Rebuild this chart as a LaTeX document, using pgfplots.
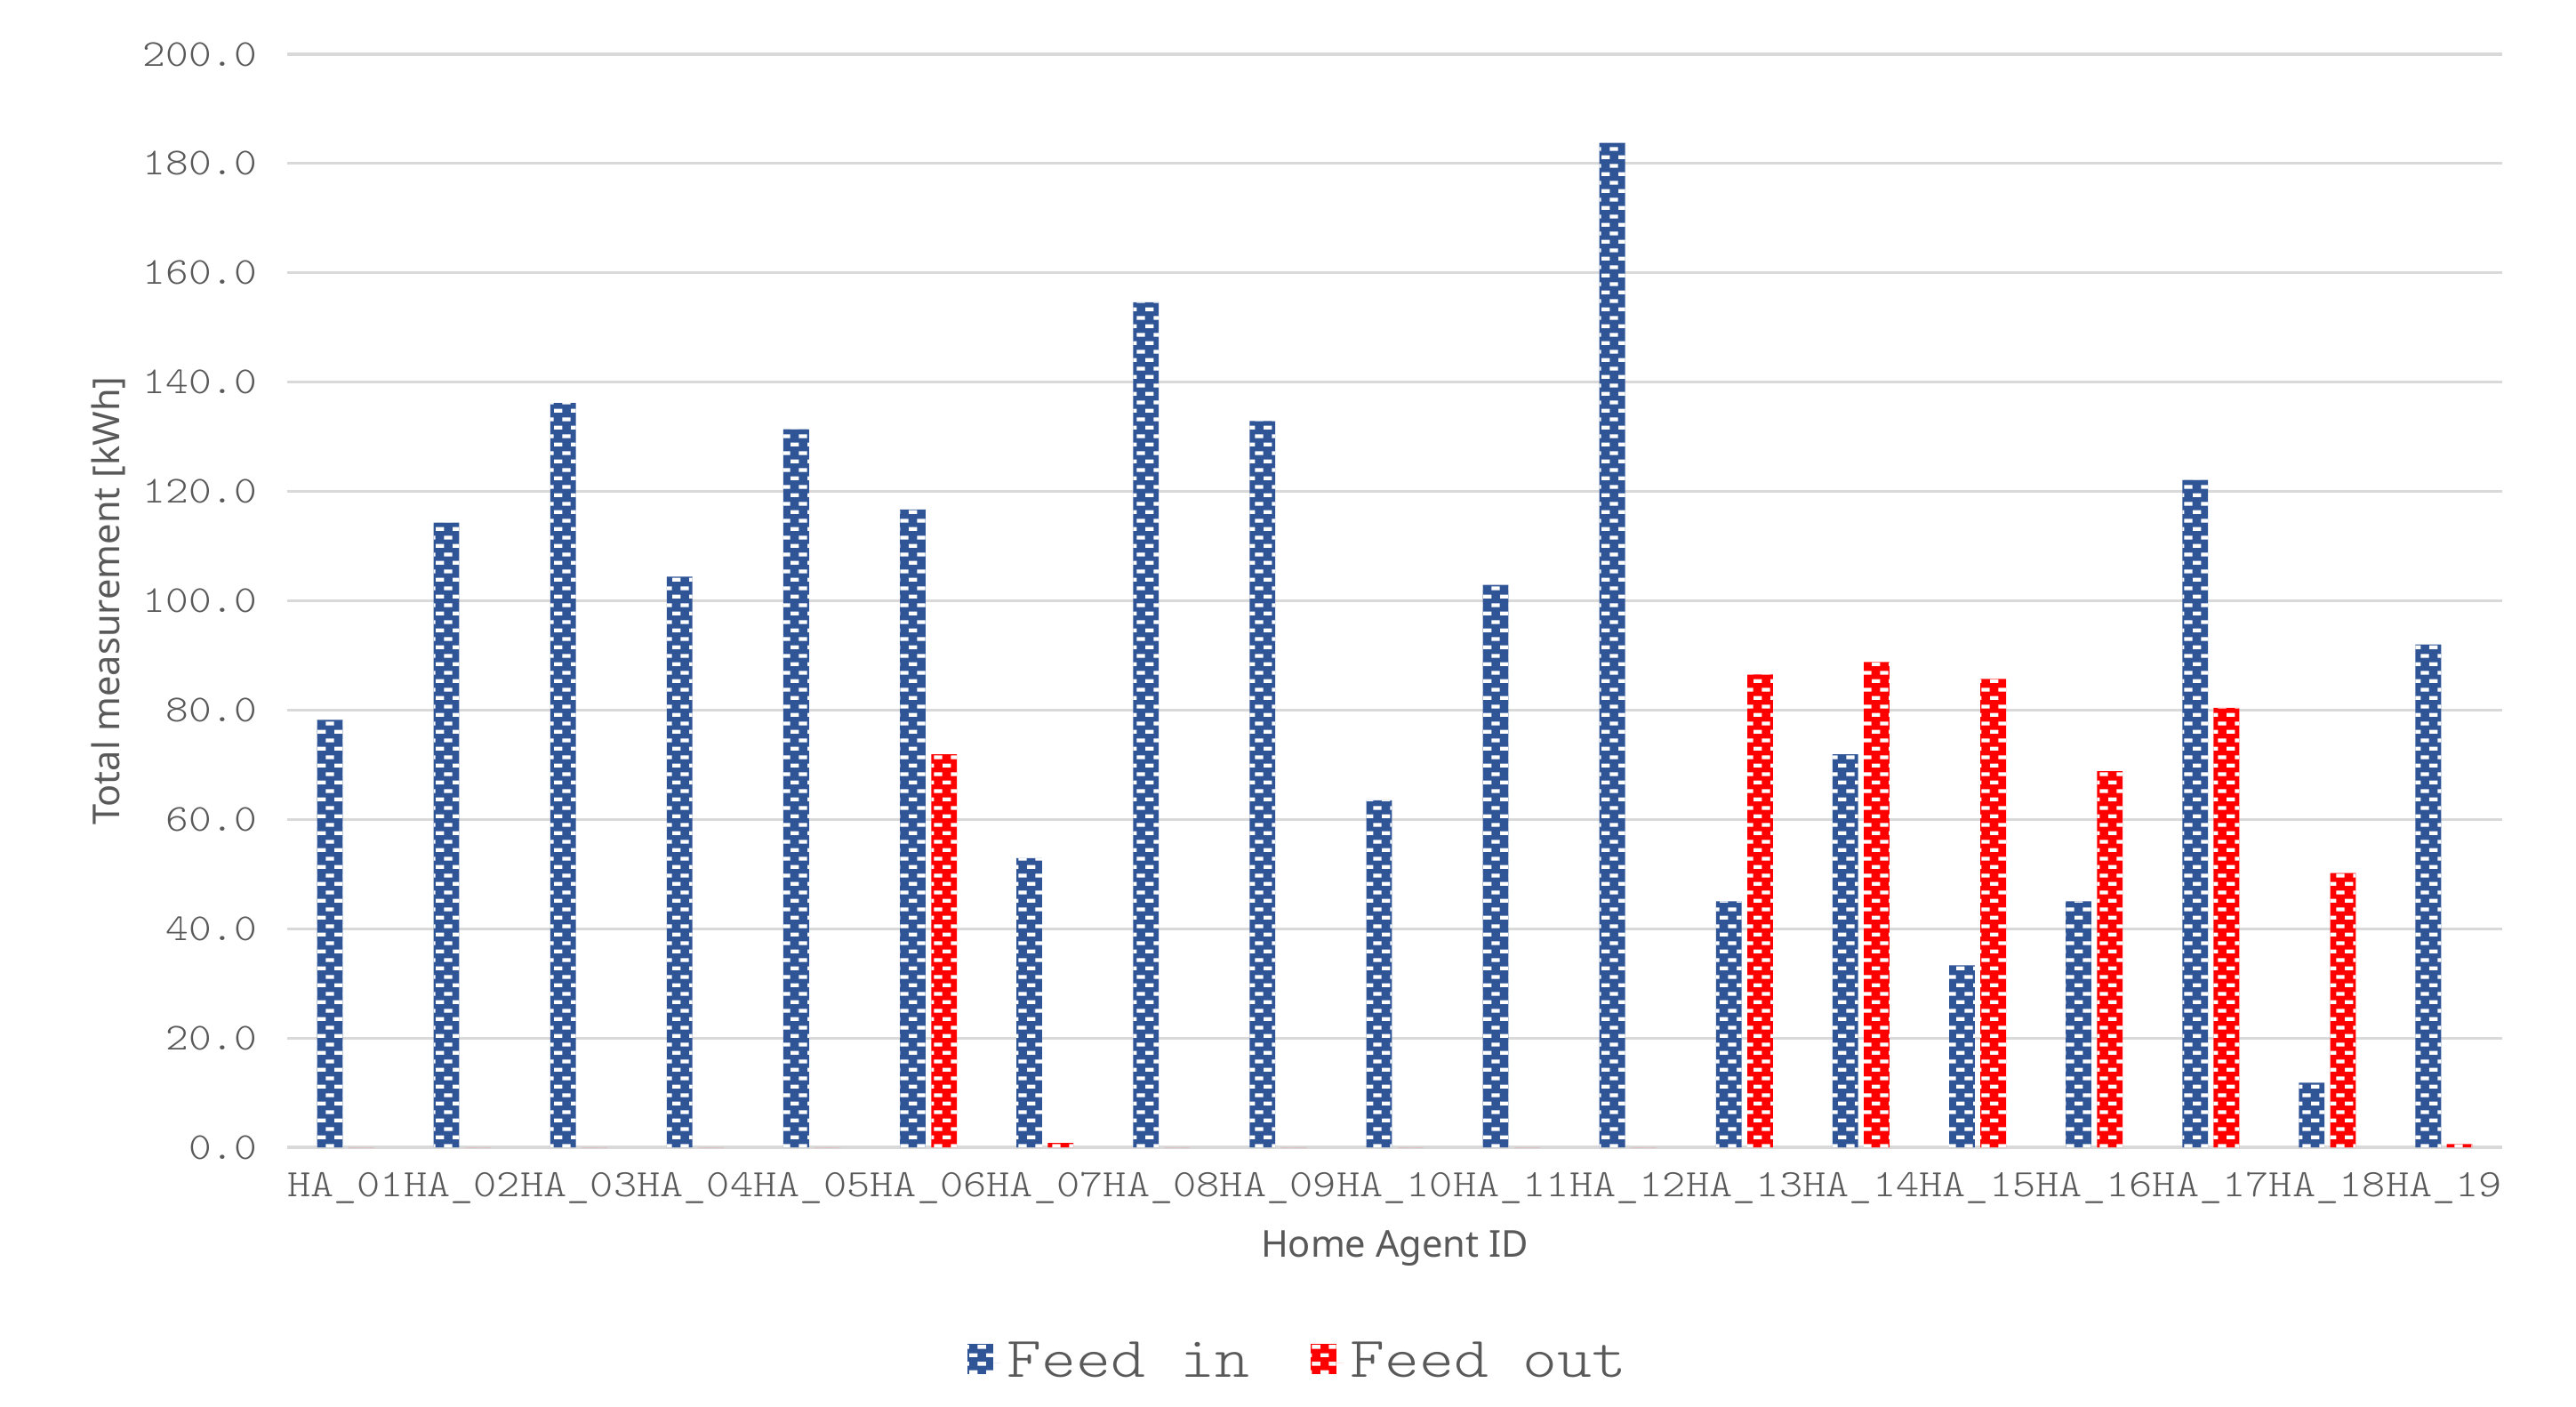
\documentclass[border=0pt]{standalone}
\usepackage{pgfplots}
\pgfplotsset{compat=1.18}
\usepackage{pgfplotstable}
\usepackage{fontspec}
\setmainfont{Noto Sans}
\setmonofont{lmmonolt10-regular}[Extension=.otf, FakeStretch=1.143]
\usetikzlibrary{patterns}
\definecolor{fblue}{HTML}{2F5597}
\definecolor{fred}{HTML}{FF0000}
\definecolor{gridc}{HTML}{D9D9D9}
\definecolor{txt}{HTML}{595959}

\pgfdeclarepatternformonly{xlbricks}{\pgfpointorigin}{\pgfpoint{4.7bp}{4.7bp}}{\pgfpoint{4.7bp}{4.7bp}}{%
  \pgfpathrectangle{\pgfpoint{0bp}{0bp}}{\pgfpoint{2.35bp}{1.1bp}}%
  \pgfpathrectangle{\pgfpoint{2.35bp}{2.35bp}}{\pgfpoint{2.35bp}{1.1bp}}%
  \pgfusepath{fill}%
}

\pgfplotsset{boxlegend/.style={legend image code/.code={\path[##1] (0bp,-3.3bp) rectangle (7.2bp,5.3bp); \path (0bp,0bp) -- (9.2bp,0bp);}}}

\pgfplotstableread{
x in out
0 78.2 0
1 114.3 0
2 136.2 0
3 104.4 0
4 131.4 0
5 116.7 71.9
6 52.9 0.8
7 154.6 0
8 132.9 0
9 63.5 0
10 102.9 0
11 183.8 0
12 45.0 86.5
13 71.9 88.8
14 33.3 85.7
15 45.0 68.8
16 122.1 80.4
17 11.8 50.2
18 92.0 0.6
}\datatable

\begin{document}
\begin{tikzpicture}
\path[use as bounding box] (-80.75bp,-73bp) rectangle (643.5bp,322.5bp);
\begin{axis}[
  at={(0,0)}, anchor=south west,
  scale only axis, width=622.75bp, height=307.25bp,
  xmin=-0.5, xmax=18.5, ymin=0, ymax=200,
  axis line style={draw=none},
  major tick length=0pt,
  ytick={0,20,...,200},
  ymajorgrids, grid style={color=gridc, line width=0.8bp},
  xtick={0,...,18},
  xticklabels={HA\_01,HA\_02,HA\_03,HA\_04,HA\_05,HA\_06,HA\_07,HA\_08,HA\_09,HA\_10,HA\_11,HA\_12,HA\_13,HA\_14,HA\_15,HA\_16,HA\_17,HA\_18,HA\_19},
  /pgf/number format/.cd, fixed, fixed zerofill, precision=1, assume math mode=true, /pgfplots/.cd,
  yticklabel style={font=\fontsize{10.7bp}{12bp}\selectfont\ttfamily, text=txt, anchor=east, inner sep=0pt, xshift=-8.25bp},
  xticklabel style={font=\fontsize{10.9bp}{12bp}\selectfont\ttfamily, text=txt, anchor=north, inner sep=0pt, yshift=-6.8bp},
  xlabel={Home Agent ID},
  ylabel={Total measurement [kWh]},
  every axis x label/.style={at={(axis description cs:0.5,-0.0928)}, anchor=center, font=\fontsize{10.4bp}{12bp}\selectfont, text=txt},
  every axis y label/.style={at={(axis description cs:-0.0807,0.5)}, rotate=90, anchor=center, font=\fontsize{10.4bp}{12bp}\selectfont, text=txt},
  legend style={at={(axis description cs:0.4576,-0.197)}, anchor=center, draw=none, fill=none,
    font=\fontsize{16.2bp}{19bp}\selectfont\ttfamily, text=txt, legend columns=2,
    /tikz/every even column/.append style={column sep=15.2bp}},
  clip=false,
]
\addplot[ybar, bar width=7.2bp, bar shift=-4.4bp, fill=fblue, draw=none,
  postaction={pattern=xlbricks, pattern color=white}, boxlegend]
  table[x=x, y=in]{\datatable};
\addlegendentry{Feed in}
\addplot[ybar, bar width=7.2bp, bar shift=4.4bp, fill=fred, draw=none,
  postaction={pattern=xlbricks, pattern color=white}, boxlegend]
  table[x=x, y=out]{\datatable};
\addlegendentry{Feed out}
\end{axis}
\end{tikzpicture}
\end{document}
